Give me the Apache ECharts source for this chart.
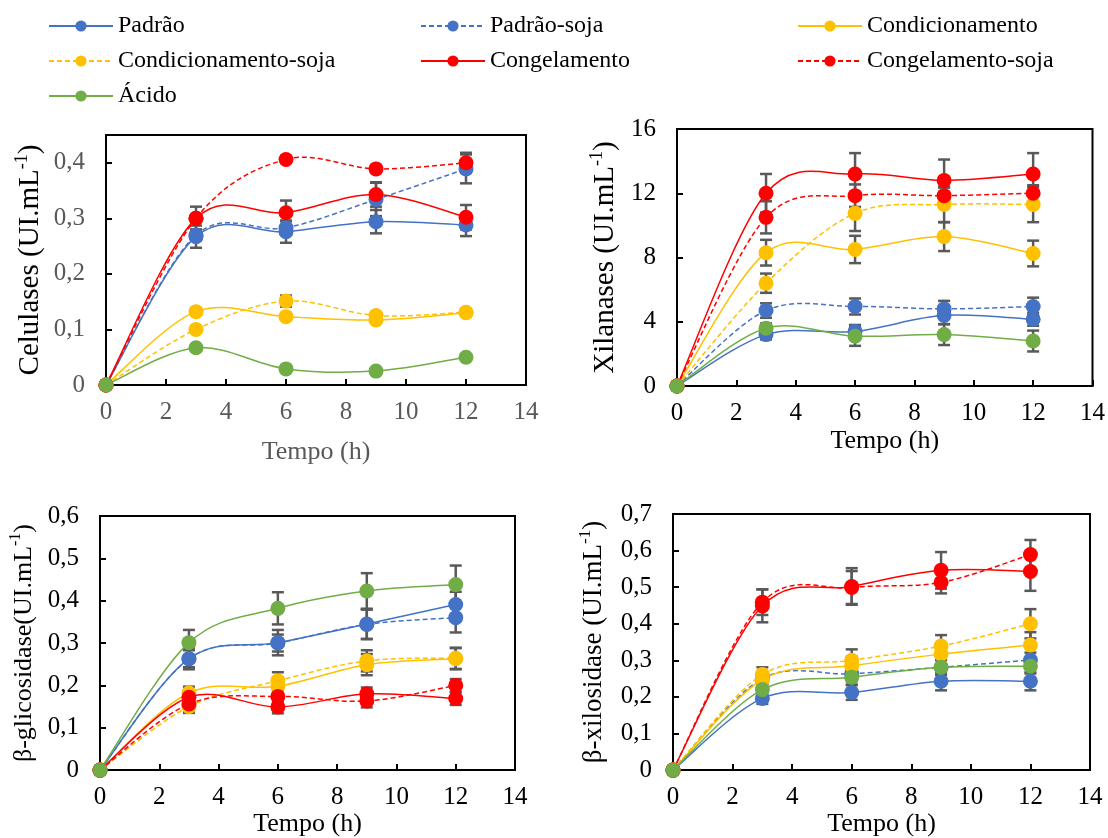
<!DOCTYPE html>
<html>
<head>
<meta charset="utf-8">
<script src="https://cdn.jsdelivr.net/npm/echarts@6/dist/echarts.min.js"></script>
<style>html,body{margin:0;padding:0;background:#fff}#c{width:1108px;height:838px}</style>
</head>
<body>
<div id="c"></div>
<script>
// ---------- DATA ----------
const tempo = [0, 3, 6, 9, 12];
const seriesNames = ['Padrão', 'Padrão-soja', 'Condicionamento', 'Condicionamento-soja', 'Congelamento', 'Congelamento-soja', 'Ácido'];

// Celulases (UI/mL)
const celPadrao     = [0, 0.267, 0.276, 0.294, 0.288];
const celPadraoSoja = [0, 0.270, 0.283, 0.334, 0.389];
const celCond       = [0, 0.132, 0.123, 0.117, 0.130];
const celCondSoja   = [0, 0.100, 0.151, 0.125, 0.131];
const celCong       = [0, 0.300, 0.310, 0.343, 0.302];
const celCongSoja   = [0, 0.300, 0.406, 0.389, 0.400];
const celAcido      = [0, 0.067, 0.029, 0.025, 0.050];
const celErrPadrao     = [0, 0.020, 0.020, 0.021, 0.020];
const celErrPadraoSoja = [0, 0.010, 0.012, 0.030, 0.026];
const celErrCond       = [0, 0.005, 0.005, 0.005, 0.005];
const celErrCondSoja   = [0, 0.005, 0.010, 0.005, 0.005];
const celErrCong       = [0, 0.021, 0.022, 0.022, 0.022];
const celErrCongSoja   = [0, 0.005, 0.006, 0.006, 0.018];
const celErrAcido      = [0, 0.003, 0.003, 0.003, 0.003];

// Xilanases (UI/mL)
const xilPadrao     = [0, 3.2, 3.4, 4.4, 4.15];
const xilPadraoSoja = [0, 4.7, 4.95, 4.8, 4.95];
const xilCond       = [0, 8.3, 8.5, 9.3, 8.25];
const xilCondSoja   = [0, 6.4, 10.75, 11.3, 11.3];
const xilCong       = [0, 12.0, 13.2, 12.8, 13.2];
const xilCongSoja   = [0, 10.5, 11.85, 11.85, 12.0];
const xilAcido      = [0, 3.6, 3.1, 3.2, 2.8];
const xilErrPadrao     = [0, 0.3, 0.4, 0.55, 0.4];
const xilErrPadraoSoja = [0, 0.45, 0.5, 0.5, 0.55];
const xilErrCond       = [0, 0.8, 0.85, 0.9, 0.8];
const xilErrCondSoja   = [0, 0.6, 1.1, 1.1, 1.1];
const xilErrCong       = [0, 1.2, 1.3, 1.3, 1.3];
const xilErrCongSoja   = [0, 1.0, 0.7, 0.5, 0.5];
const xilErrAcido      = [0, 0.3, 0.6, 0.65, 0.65];

// beta-glicosidase (UI/mL)
const gliPadrao     = [0, 0.263, 0.301, 0.345, 0.391];
const gliPadraoSoja = [0, 0.263, 0.300, 0.344, 0.360];
const gliCond       = [0, 0.182, 0.198, 0.249, 0.263];
const gliCondSoja   = [0, 0.150, 0.211, 0.258, 0.264];
const gliCong       = [0, 0.172, 0.149, 0.180, 0.169];
const gliCongSoja   = [0, 0.156, 0.174, 0.163, 0.200];
const gliAcido      = [0, 0.301, 0.382, 0.423, 0.438];
const gliErrPadrao     = [0, 0.025, 0.030, 0.035, 0.030];
const gliErrPadraoSoja = [0, 0.020, 0.020, 0.035, 0.035];
const gliErrCond       = [0, 0.015, 0.020, 0.025, 0.025];
const gliErrCondSoja   = [0, 0.015, 0.020, 0.025, 0.025];
const gliErrCong       = [0, 0.015, 0.015, 0.015, 0.015];
const gliErrCongSoja   = [0, 0.015, 0.015, 0.015, 0.015];
const gliErrAcido      = [0, 0.030, 0.038, 0.042, 0.045];

// beta-xilosidase (UI/mL)
const xsdPadrao     = [0, 0.196, 0.212, 0.243, 0.243];
const xsdPadraoSoja = [0, 0.250, 0.263, 0.281, 0.301];
const xsdCond       = [0, 0.247, 0.285, 0.317, 0.342];
const xsdCondSoja   = [0, 0.261, 0.300, 0.339, 0.400];
const xsdCong       = [0, 0.449, 0.502, 0.546, 0.543];
const xsdCongSoja   = [0, 0.459, 0.499, 0.513, 0.589];
const xsdAcido      = [0, 0.220, 0.254, 0.281, 0.284];
const xsdErrPadrao     = [0, 0.015, 0.020, 0.025, 0.025];
const xsdErrPadraoSoja = [0, 0.015, 0.020, 0.020, 0.020];
const xsdErrCond       = [0, 0.020, 0.025, 0.030, 0.035];
const xsdErrCondSoja   = [0, 0.020, 0.030, 0.030, 0.040];
const xsdErrCong       = [0, 0.045, 0.050, 0.050, 0.053];
const xsdErrCongSoja   = [0, 0.035, 0.045, 0.030, 0.040];
const xsdErrAcido      = [0, 0.015, 0.020, 0.020, 0.020];

const xTicks = { min: 0, max: 14, interval: 2 };
const yCel = { min: 0, max: 0.45, interval: 0.1, hide: 0.45 };
const yXil = { min: 0, max: 16, interval: 4 };
const yGli = { min: 0, max: 0.6, interval: 0.1 };
const yXsd = { min: 0, max: 0.7, interval: 0.1 };

// ---------- STYLE ----------
const FONT = "'Liberation Serif', 'Times New Roman', serif";
const colors = ['#4472C4', '#4472C4', '#FFC000', '#FFC000', '#FF0000', '#FF0000', '#70AD47'];
const dashed = [false, true, false, true, false, true, false];
const DASH = [5, 3];

const panels = [
  { vals: [celPadrao, celPadraoSoja, celCond, celCondSoja, celCong, celCongSoja, celAcido],
    errs: [celErrPadrao, celErrPadraoSoja, celErrCond, celErrCondSoja, celErrCong, celErrCongSoja, celErrAcido],
    y: yCel, title: ['Celulases (UI.mL', '-1', ')'], titleSize: 29,
    grid: { left: 106, right: 582, top: 135, bottom: 453 }, labelColor: '#595959', xNameGap: 54, yNameGap: 61 },
  { vals: [xilPadrao, xilPadraoSoja, xilCond, xilCondSoja, xilCong, xilCongSoja, xilAcido],
    errs: [xilErrPadrao, xilErrPadraoSoja, xilErrCond, xilErrCondSoja, xilErrCong, xilErrCongSoja, xilErrAcido],
    y: yXil, title: ['Xilanases (UI.mL', '-1', ')'], titleSize: 29,
    grid: { left: 677, right: 14, top: 129, bottom: 452 }, labelColor: '#000', xNameGap: 42, yNameGap: 57 },
  { vals: [gliPadrao, gliPadraoSoja, gliCond, gliCondSoja, gliCong, gliCongSoja, gliAcido],
    errs: [gliErrPadrao, gliErrPadraoSoja, gliErrCond, gliErrCondSoja, gliErrCong, gliErrCongSoja, gliErrAcido],
    y: yGli, title: ['β-glicosidase(UI.mL', '-1', ')'], titleSize: 26,
    grid: { left: 100, right: 593, top: 516, bottom: 64 }, labelColor: '#000', xNameGap: 40, yNameGap: 63 },
  { vals: [xsdPadrao, xsdPadraoSoja, xsdCond, xsdCondSoja, xsdCong, xsdCongSoja, xsdAcido],
    errs: [xsdErrPadrao, xsdErrPadraoSoja, xsdErrCond, xsdErrCondSoja, xsdErrCong, xsdErrCongSoja, xsdErrAcido],
    y: yXsd, title: ['β-xilosidase (UI.mL', '-1', ')'], titleSize: 27,
    grid: { left: 673, right: 18, top: 514, bottom: 64 }, labelColor: '#000', xNameGap: 40, yNameGap: 66 }
];

function fmt(v) { return String(+v.toFixed(2)).replace('.', ','); }

function errRender(params, api) {
  const x = api.value(0), y = api.value(1), e = api.value(2);
  const lo = api.coord([x, y - e]), hi = api.coord([x, y + e]);
  const w = 6;
  const st = { stroke: '#595959', lineWidth: 2.5 };
  return { type: 'group', children: [
    { type: 'line', shape: { x1: lo[0], y1: lo[1], x2: hi[0], y2: hi[1] }, style: st },
    { type: 'line', shape: { x1: lo[0] - w, y1: lo[1], x2: lo[0] + w, y2: lo[1] }, style: st },
    { type: 'line', shape: { x1: hi[0] - w, y1: hi[1], x2: hi[0] + w, y2: hi[1] }, style: st }
  ]};
}

// Excel-like smoothed segment (Catmull-Rom style bezier) between two data points
function makeCurveRender(color, dash) {
  return function (params, api) {
    const p0 = api.coord([api.value(0), api.value(1)]);
    const p1 = api.coord([api.value(2), api.value(3)]);
    const pp = api.coord([api.value(4), api.value(5)]);
    const pn = api.coord([api.value(6), api.value(7)]);
    const k = 1 / 6;
    return {
      type: 'bezierCurve',
      shape: {
        x1: p0[0], y1: p0[1], x2: p1[0], y2: p1[1],
        cpx1: p0[0] + (p1[0] - pp[0]) * k, cpy1: p0[1] + (p1[1] - pp[1]) * k,
        cpx2: p1[0] - (pn[0] - p0[0]) * k, cpy2: p1[1] - (pn[1] - p0[1]) * k
      },
      style: { stroke: color, lineWidth: 1.5, fill: null, lineDash: dash ? DASH : null }
    };
  };
}

const grids = [], xAxes = [], yAxes = [], series = [];
panels.forEach((p, pi) => {
  grids.push(Object.assign({ show: true, borderColor: '#000', borderWidth: 2, containLabel: false }, p.grid));
  xAxes.push({
    type: 'value', gridIndex: pi, min: xTicks.min, max: xTicks.max, interval: xTicks.interval,
    name: 'Tempo (h)', nameLocation: 'middle', nameGap: p.xNameGap,
    nameTextStyle: { fontFamily: FONT, fontSize: 26, color: p.labelColor },
    axisLine: { show: true, onZero: false, lineStyle: { color: '#000', width: 2 } },
    axisTick: { show: true, inside: true, length: 6, lineStyle: { color: '#000', width: 2 } },
    axisLabel: { fontFamily: FONT, fontSize: 25, color: p.labelColor, margin: 15 },
    splitLine: { show: false }
  });
  yAxes.push({
    type: 'value', gridIndex: pi, min: p.y.min, max: p.y.max, interval: p.y.interval,
    name: '{t|' + p.title[0] + '}{s|' + p.title[1] + '}{t|' + p.title[2] + '}',
    nameLocation: 'middle', nameGap: p.yNameGap,
    nameTextStyle: { rich: {
      t: { fontFamily: FONT, fontSize: p.titleSize, color: '#000', lineHeight: p.titleSize + 3, verticalAlign: 'bottom' },
      s: { fontFamily: FONT, fontSize: Math.round(p.titleSize * 0.62), color: '#000', lineHeight: p.titleSize + 3, verticalAlign: 'top' }
    } },
    axisLine: { show: true, onZero: false, lineStyle: { color: '#000', width: 2 } },
    axisTick: { show: true, inside: true, length: 6, lineStyle: { color: '#000', width: 2 } },
    axisLabel: { fontFamily: FONT, fontSize: 25, color: p.labelColor, margin: 21,
      formatter: v => (p.y.hide !== undefined && Math.abs(v - p.y.hide) < 1e-9) ? '' : fmt(v) },
    splitLine: { show: false }
  });
  // error bars (underneath)
  const errData = [];
  p.vals.forEach((vals, si) => {
    vals.forEach((v, i) => { if (p.errs[si][i] > 0) errData.push([tempo[i], v, p.errs[si][i]]); });
  });
  series.push({
    type: 'custom', xAxisIndex: pi, yAxisIndex: pi, renderItem: errRender, silent: true,
    encode: { x: 0, y: 1 }, data: errData, clip: false, z: 1
  });
  // smoothed curves
  p.vals.forEach((vals, si) => {
    const seg = [];
    for (let i = 0; i < tempo.length - 1; i++) {
      const ip = Math.max(i - 1, 0), inx = Math.min(i + 2, tempo.length - 1);
      seg.push([tempo[i], vals[i], tempo[i + 1], vals[i + 1], tempo[ip], vals[ip], tempo[inx], vals[inx]]);
    }
    series.push({
      type: 'custom', xAxisIndex: pi, yAxisIndex: pi, silent: true, clip: false, z: 2,
      encode: { x: 0, y: 1 }, data: seg, renderItem: makeCurveRender(colors[si], dashed[si])
    });
  });
  // markers
  p.vals.forEach((vals, si) => {
    series.push({
      name: seriesNames[si], type: 'line', xAxisIndex: pi, yAxisIndex: pi,
      data: tempo.map((t, i) => [t, vals[i]]),
      symbol: 'circle', symbolSize: 15, clip: false, z: 3,
      lineStyle: { color: colors[si], width: 1.5, type: dashed[si] ? DASH : 'solid', opacity: 0 },
      itemStyle: { color: colors[si] },
      emphasis: { disabled: true }
    });
  });
});

const legendBase = {
  orient: 'vertical', itemWidth: 64, itemHeight: 14, itemGap: 11, top: 9,
  textStyle: { fontFamily: FONT, fontSize: 24, color: '#000' }, selectedMode: false,
  lineStyle: { opacity: 1 }
};
const legends = [
  Object.assign({}, legendBase, { left: 43, data: [seriesNames[0], seriesNames[3], seriesNames[6]] }),
  Object.assign({}, legendBase, { left: 415, data: [seriesNames[1], seriesNames[4]] }),
  Object.assign({}, legendBase, { left: 792, data: [seriesNames[2], seriesNames[5]] })
];

const chart = echarts.init(document.getElementById('c'), null, { renderer: 'canvas' });
chart.setOption({
  animation: false,
  backgroundColor: '#fff',
  legend: legends,
  grid: grids, xAxis: xAxes, yAxis: yAxes, series: series
});
</script>
</body>
</html>
